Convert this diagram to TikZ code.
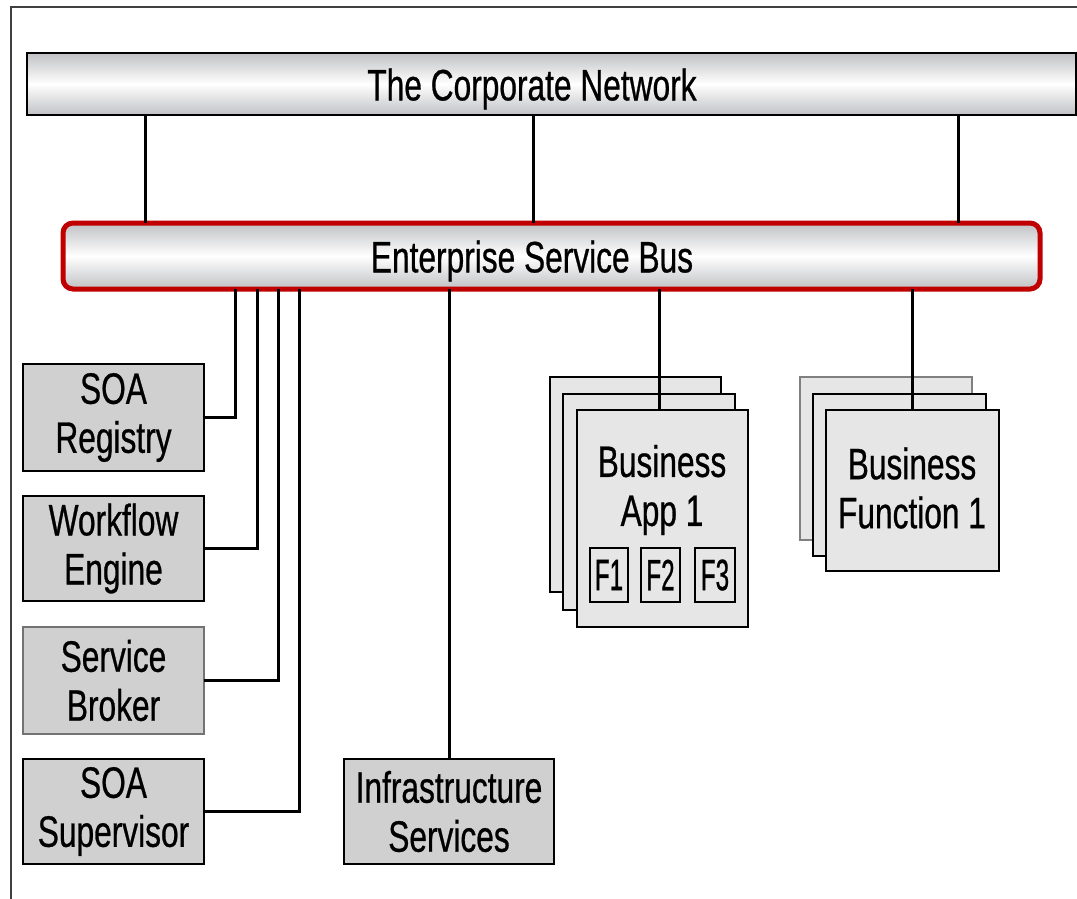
\documentclass[tikz,border=0pt]{standalone}
\usepackage{fontspec}
\setmainfont[FakeStretch=0.72,FakeBold=0.6]{Liberation Sans}
\newfontfamily\narrowfont[FakeStretch=0.55,FakeBold=0.6]{Liberation Sans}
\definecolor{barg}{HTML}{C0C1C4}
\definecolor{esbred}{HTML}{C00000}
\definecolor{boxg}{HTML}{D0D0D0}
\definecolor{lightg}{HTML}{E6E6E6}
\definecolor{frameg}{HTML}{404040}
\begin{document}
\begin{tikzpicture}[x=1pt,y=-1pt,
  lbl/.style={font=\fontsize{44}{49}\selectfont, align=center, inner sep=0pt},
  barbox/.style={draw=black, line width=2pt, top color=barg, bottom color=barg, middle color=white, inner sep=0pt, outer sep=0pt},
  graybox/.style={draw=black, line width=2pt, fill=boxg, inner sep=0pt, outer sep=0pt, align=center, font=\fontsize{44}{49}\selectfont},
  stackbox/.style={draw=black, line width=2pt, fill=lightg, inner sep=0pt, outer sep=0pt},
  fbox/.style={draw=black, line width=1.8pt, fill=lightg, inner sep=0pt, outer sep=0pt, minimum height=54pt, font=\narrowfont\fontsize{44}{49}\selectfont},
  conn/.style={line width=3pt, black}]
\useasboundingbox (0,0) rectangle (1077,899);
% outer frame
\draw[frameg, line width=2pt] (1077,7) -- (11,7) -- (11,899);

% bars
\node[barbox, minimum width=1049pt, minimum height=62pt] (corp) at (551.5,84) {};
\node[lbl] (corptext) at (532,89) {The Corporate Network};
\node[draw=esbred, line width=5pt, rounded corners=10pt, top color=barg, bottom color=barg, middle color=white, inner sep=0pt, outer sep=0pt, minimum width=977pt, minimum height=66pt] (esb) at (551.5,256) {};
\node[lbl] (esbtext) at (532,261) {Enterprise Service Bus};

% tap coordinates
\coordinate (t1) at (145,0);
\coordinate (t2) at (533,0);
\coordinate (t3) at (958,0);
\coordinate (ta) at (235,0);
\coordinate (tb) at (257,0);
\coordinate (tc) at (278,0);
\coordinate (td) at (299,0);

% left boxes
\node[graybox, minimum width=181pt, minimum height=107pt] (soareg) at (113.5,417.5) {SOA\\Registry};
\node[graybox, minimum width=181pt, minimum height=105pt] (wfe) at (113.5,548.5) {Workflow\\Engine};
\node[graybox, draw=black!55, minimum width=181pt, minimum height=107pt] (broker) at (113.5,680.5) {Service\\Broker};
\node[graybox, minimum width=181pt, minimum height=105pt] (sup) at (113.5,811.5) {SOA\\Supervisor};
\node[graybox, minimum width=210pt, minimum height=105pt] (infra) at (449,811.5) {Infrastructure\\Services};

% business app stack
\node[stackbox, minimum width=171pt, minimum height=215pt] (appback) at (635.5,484.5) {};
\node[stackbox, minimum width=172pt, minimum height=216pt] (appmid) at (649,502) {};
\node[stackbox, minimum width=171pt, minimum height=217pt] (appfront) at (662.5,518.5) {};
\node[lbl] (apptext) at (662,490) {Business\\App 1};
\node[fbox, minimum width=38pt] (f1) at (609,575) {F1};
\node[fbox, minimum width=39pt] (f2) at (660.5,575) {F2};
\node[fbox, minimum width=40pt] (f3) at (715,575) {F3};

% business function stack
\node[stackbox, draw=black!50, minimum width=172pt, minimum height=163pt] (funback) at (886,458.5) {};
\node[stackbox, minimum width=173pt, minimum height=162pt] (funmid) at (899.5,475) {};
\node[stackbox, minimum width=173pt, minimum height=161pt] (funfront) at (912.5,490.5) {};
\node[lbl] (funtext) at (912,488) {Business\\Function 1};

% connectors
\draw[conn] (corp.south -| t1) -- (esb.north -| t1);
\draw[conn] (corp.south -| t2) -- (esb.north -| t2);
\draw[conn] (corp.south -| t3) -- (esb.north -| t3);
\draw[conn] (soareg.east) -| (esb.south -| ta);
\draw[conn] (wfe.east) -| (esb.south -| tb);
\draw[conn] (broker.east) -| (esb.south -| tc);
\draw[conn] (sup.east) -| (esb.south -| td);
\draw[conn] (esb.south -| infra.north) -- (infra.north);
\draw[conn] (esb.south -| 659,0) -- (appfront.north -| 659,0);
\draw[conn] (esb.south -| 912,0) -- (funfront.north -| 912,0);
\end{tikzpicture}
\end{document}
